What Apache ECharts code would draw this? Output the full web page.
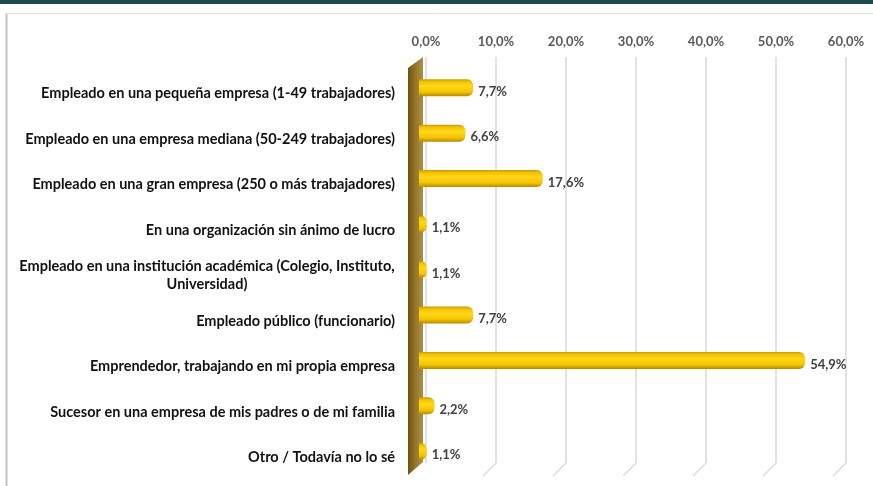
<!DOCTYPE html>
<html><head><meta charset="utf-8">
<script src="https://cdn.jsdelivr.net/npm/echarts@6/dist/echarts.min.js"></script>
<style>html,body{margin:0;padding:0;background:#fff}#c{width:873px;height:486px}</style>
</head><body><div id="c"></div>
<script>
const categories = [
  "Empleado en una pequeña empresa (1-49 trabajadores)",
  "Empleado en una empresa mediana (50-249 trabajadores)",
  "Empleado en una gran empresa (250 o más trabajadores)",
  "En una organización sin ánimo de lucro",
  "Empleado en una institución académica (Colegio, Instituto,\nUniversidad)",
  "Empleado público (funcionario)",
  "Emprendedor, trabajando en mi propia empresa",
  "Sucesor en una empresa de mis padres o de mi familia",
  "Otro / Todavía no lo sé"
];
const values = [7.7, 6.6, 17.6, 1.1, 1.1, 7.7, 54.9, 2.2, 1.1];
const axisMin = 0, axisMax = 60, axisStep = 10;

const FONT = 'Lato';
const fmt = v => v.toFixed(1).replace('.', ',') + '%';

const chart = echarts.init(document.getElementById('c'), null, {renderer: 'canvas'});

const option = {
  backgroundColor: '#fff',
  animation: false,
  grid: [
    {left: 426, right: 27, top: 57, bottom: 23},
    {left: 419, right: 32, top: 65, bottom: 12},
    {left: 419, right: 32, top: 71, bottom: 6}
  ],
  xAxis: [
    {gridIndex: 0, type: 'value', position: 'top', min: axisMin, max: axisMax, interval: axisStep,
     axisLine: {show: false}, axisTick: {show: false},
     splitLine: {show: true, lineStyle: {color: '#d9d9d9', width: 1.5}},
     axisLabel: {margin: 9, color: '#595959', fontFamily: FONT, fontWeight: 'bold', fontSize: 13,
                 formatter: v => fmt(v)}},
    {gridIndex: 1, type: 'value', min: axisMin, max: axisMax, show: false},
    {gridIndex: 2, type: 'value', min: axisMin, max: axisMax, show: false}
  ],
  yAxis: [
    {gridIndex: 0, type: 'category', data: categories, show: false, inverse: true},
    {gridIndex: 1, type: 'category', data: categories, show: false, inverse: true},
    {gridIndex: 2, type: 'category', data: categories, inverse: true,
     axisLine: {show: false}, axisTick: {show: false},
     axisLabel: {margin: 24, color: '#111', fontFamily: FONT, fontWeight: 'bold', fontSize: 14.5,
       formatter: function (v) {
         if (v.indexOf('\n') >= 0) {
           return v.split('\n').map(s => '{c|' + s + '}').join('\n');
         }
         return v;
       },
       rich: {c: {width: 376, align: 'center', fontFamily: FONT, fontWeight: 'bold', fontSize: 14.5, color: '#111', lineHeight: 18}}
     }}
  ],
  series: [{
    type: 'bar', xAxisIndex: 1, yAxisIndex: 1, data: values, barWidth: 17, z: 3,
    itemStyle: {
      borderRadius: [0, 6, 6, 0],
      color: new echarts.graphic.LinearGradient(0, 0, 0, 1, [
        {offset: 0, color: '#c99a00'},
        {offset: 0.15, color: '#f2c200'},
        {offset: 0.4, color: '#ffd71a'},
        {offset: 0.75, color: '#f5c400'},
        {offset: 1, color: '#b58a00'}
      ])
    },
    label: {show: true, position: 'right', distance: 5, offset: [0, 4], color: '#404040', fontFamily: FONT,
            fontWeight: 'bold', fontSize: 13, formatter: p => fmt(p.value)}
  }]
};
chart.setOption(option);

// decorations: frame, wall, floor slants derived from the axis scale
const g = [];
g.push({type: 'rect', shape: {x: 0, y: 0, width: 873, height: 4}, style: {fill: '#1d4b50'}, z: 0});
g.push({type: 'line', shape: {x1: 6.5, y1: 13, x2: 6.5, y2: 486}, style: {stroke: '#c4c4c4', lineWidth: 2}, z: 0});
g.push({type: 'line', shape: {x1: 6, y1: 13.5, x2: 873, y2: 13.5}, style: {stroke: '#e2e2e2', lineWidth: 1}, z: 0});
const gridBottom = 463;
for (let v = axisMin + axisStep; v <= axisMax; v += axisStep) {
  const x = chart.convertToPixel({xAxisIndex: 0}, v);
  g.push({type: 'line', shape: {x1: x, y1: gridBottom, x2: x - 13, y2: gridBottom + 13},
          style: {stroke: '#dcdcdc', lineWidth: 1.5}, z: 0});
}
g.push({type: 'polygon', shape: {points: [[408, 68], [423, 57], [423, 462], [408, 475]]},
  style: {fill: new echarts.graphic.LinearGradient(0, 0, 1, 0, [
    {offset: 0, color: '#6f5310'}, {offset: 0.5, color: '#95762a'}, {offset: 1, color: '#ad8f45'}])}, z: 1});
chart.setOption({graphic: {elements: g}});
</script>
</body></html>
